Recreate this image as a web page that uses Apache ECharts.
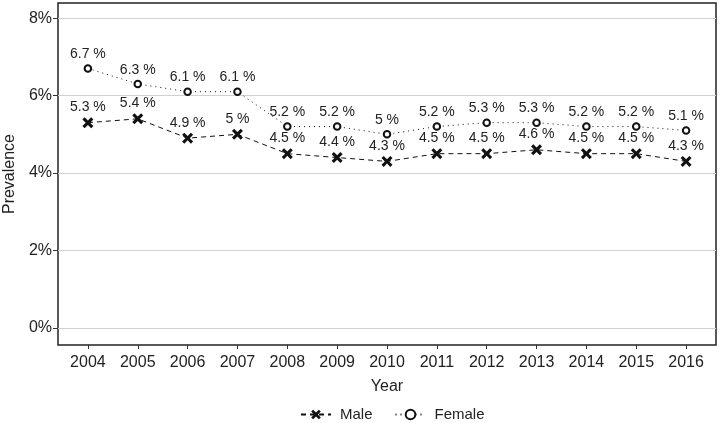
<!DOCTYPE html>
<html>
<head>
<meta charset="utf-8">
<script src="https://cdn.jsdelivr.net/npm/echarts@6/dist/echarts.min.js"></script>
<style>
  html, body { margin: 0; padding: 0; background: #fff; }
  #chart { width: 720px; height: 423px; }
</style>
</head>
<body>
<div id="chart"></div>
<script>
// data
const years = [2004, 2005, 2006, 2007, 2008, 2009, 2010, 2011, 2012, 2013, 2014, 2015, 2016];
const male = [5.3, 5.4, 4.9, 5.0, 4.5, 4.4, 4.3, 4.5, 4.5, 4.6, 4.5, 4.5, 4.3];
const female = [6.7, 6.3, 6.1, 6.1, 5.2, 5.2, 5.0, 5.2, 5.3, 5.3, 5.2, 5.2, 5.1];
const yTicks = [0, 2, 4, 6, 8];

const font = 'Liberation Sans, Arial, sans-serif';
const crossPath = 'path://M0,2L2,0L5,3L8,0L10,2L7,5L10,8L8,10L5,7L2,10L0,8L3,5Z';

const chart = echarts.init(document.getElementById('chart'));

// label above each point, e.g. "6.7 %"
const pointLabel = dist => ({
  show: true,
  position: 'top',
  distance: dist,
  color: '#222',
  fontFamily: font,
  fontSize: 14,
  formatter: p => p.value[1] + ' %'
});

chart.setOption({
  animation: false,
  grid: {
    left: 58, right: 4, top: 3, bottom: 78,
    outerBoundsMode: 'none',
    containLabel: false,
    show: true, borderColor: '#222', borderWidth: 1.5, backgroundColor: '#fff'
  },
  legend: {
    left: 295, top: 402,
    itemWidth: 30, itemHeight: 12, itemGap: 22,
    textStyle: { fontFamily: font, fontSize: 15, color: '#222', padding: [0, 0, 0, 4] },
    data: ['Male', 'Female']
  },
  xAxis: {
    type: 'value',
    min: 2003.4, max: 2016.6,
    name: 'Year', nameLocation: 'middle', nameGap: 34,
    nameTextStyle: { fontFamily: font, fontSize: 16, color: '#222' },
    axisLine: { show: false, onZero: false },
    axisTick: { show: true, length: 4, lineStyle: { color: '#333' }, customValues: years },
    axisLabel: { fontFamily: font, fontSize: 16, color: '#222', margin: 10, customValues: years, formatter: v => String(v) },
    splitLine: { show: false }
  },
  yAxis: {
    type: 'value',
    min: -0.44, max: 8.39,
    name: 'Prevalence', nameLocation: 'middle', nameGap: 40,
    nameTextStyle: { fontFamily: font, fontSize: 16, color: '#222' },
    axisLine: { show: false, onZero: false },
    axisTick: { show: true, length: 5, lineStyle: { color: '#333' }, customValues: yTicks },
    axisLabel: { fontFamily: font, fontSize: 16, color: '#222', margin: 6, customValues: yTicks, formatter: v => v + '%' },
    splitLine: { show: true, lineStyle: { color: '#d0d0d0', width: 1 } }
  },
  series: [
    {
      name: 'Male',
      type: 'line',
      data: years.map((y, i) => [y, male[i]]),
      symbol: crossPath,
      symbolSize: 11,
      itemStyle: { color: '#111' },
      lineStyle: { color: '#111', width: 1, type: [5, 4] },
      label: pointLabel(3)
    },
    {
      name: 'Female',
      type: 'line',
      data: years.map((y, i) => [y, female[i]]),
      symbol: 'emptyCircle',
      symbolSize: 6.5,
      itemStyle: { color: '#111', borderWidth: 3 },
      lineStyle: { color: '#111', width: 1, type: [1, 4] },
      label: pointLabel(3)
    }
  ]
});
</script>
</body>
</html>
